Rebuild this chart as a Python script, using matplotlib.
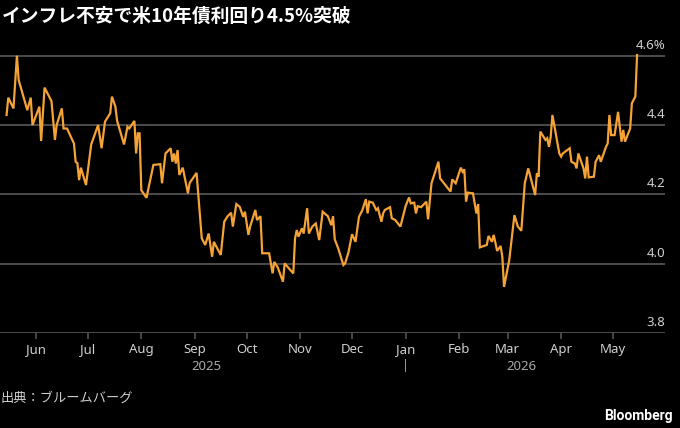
import matplotlib
matplotlib.use("Agg")
import matplotlib.pyplot as plt
import matplotlib.transforms as mtransforms
import pandas as pd

# ---- data ----
start_date = "2025-06-01"
day_offsets = [-17, -16, -13, -11, -10, -5, -3, -2, 2, 3, 5, 9, 11, 12, 15, 16, 18, 22, 23, 24,
               25, 26, 29, 32, 36, 38, 40, 43, 44, 46, 47, 51, 53, 54, 57, 58, 59, 60, 61, 64,
               68, 72, 73, 75, 78, 79, 80, 81, 82, 83, 85, 88, 89, 93, 96, 98, 100, 102, 103, 107,
               109, 111, 113, 114, 116, 118, 120, 121, 123, 124, 127, 128, 130, 131, 135, 137, 138, 140, 143, 144,
               146, 149, 150, 151, 152, 154, 155, 157, 158, 160, 162, 164, 166, 169, 171, 172, 173, 175, 178, 179,
               181, 183, 185, 187, 189, 191, 192, 193, 195, 197, 198, 199, 200, 201, 202, 205, 206, 208, 211, 214,
               216, 217, 219, 220, 221, 223, 226, 227, 229, 233, 234, 237, 240, 241, 243, 246, 247, 248, 249, 250,
               253, 255, 256, 257, 261, 262, 264, 265, 267, 269, 270, 271, 274, 277, 279, 281, 283, 285, 289, 290,
               291, 292, 295, 296, 297, 298, 299, 303, 304, 305, 309, 310, 312, 313, 314, 315, 317, 318, 319, 320,
               323, 324, 326, 327, 330, 331, 332, 333, 335, 337, 339, 340, 341, 344, 345, 347, 348]
yields = [4.429, 4.479, 4.448, 4.600, 4.530, 4.443, 4.479, 4.400, 4.453, 4.354, 4.508, 4.469, 4.357, 4.400, 4.448, 4.390, 4.390, 4.347, 4.294, 4.290,
          4.241, 4.277, 4.227, 4.344, 4.400, 4.333, 4.410, 4.434, 4.482, 4.453, 4.412, 4.344, 4.395, 4.390, 4.412, 4.318, 4.376, 4.376, 4.212, 4.190,
          4.285, 4.287, 4.232, 4.318, 4.333, 4.294, 4.318, 4.289, 4.328, 4.256, 4.277, 4.203, 4.233, 4.262, 4.073, 4.054, 4.087, 4.020, 4.063, 4.025,
          4.121, 4.137, 4.147, 4.107, 4.172, 4.164, 4.135, 4.150, 4.083, 4.107, 4.155, 4.126, 4.137, 4.030, 4.030, 3.972, 4.005, 3.989, 3.948, 4.001,
          3.989, 3.972, 4.073, 4.097, 4.078, 4.102, 4.087, 4.160, 4.087, 4.107, 4.116, 4.068, 4.150, 4.137, 4.111, 4.137, 4.070, 4.044, 3.996, 4.001,
          4.034, 4.085, 4.063, 4.135, 4.155, 4.186, 4.145, 4.179, 4.176, 4.155, 4.160, 4.140, 4.121, 4.145, 4.155, 4.163, 4.131, 4.126, 4.107, 4.166,
          4.191, 4.174, 4.176, 4.145, 4.166, 4.163, 4.179, 4.128, 4.232, 4.294, 4.246, 4.227, 4.208, 4.243, 4.232, 4.277, 4.265, 4.272, 4.179, 4.205,
          4.203, 4.145, 4.172, 4.047, 4.054, 4.080, 4.063, 4.083, 4.037, 4.051, 4.020, 3.933, 4.010, 4.140, 4.107, 4.095, 4.232, 4.275, 4.198, 4.261,
          4.251, 4.381, 4.357, 4.362, 4.337, 4.366, 4.429, 4.318, 4.309, 4.318, 4.333, 4.294, 4.289, 4.275, 4.318, 4.304, 4.275, 4.246, 4.309, 4.249,
          4.251, 4.294, 4.313, 4.294, 4.337, 4.347, 4.429, 4.371, 4.371, 4.438, 4.352, 4.386, 4.352, 4.390, 4.463, 4.482, 4.602]

y_ticks = [3.8, 4.0, 4.2, 4.4, 4.6]
y_tick_labels = ["3.8", "4.0", "4.2", "4.4", "4.6%"]
month_ticks = ["2025-06-01", "2025-07-01", "2025-08-01", "2025-09-01", "2025-10-01", "2025-11-01",
               "2025-12-01", "2026-01-01", "2026-02-01", "2026-03-01", "2026-04-01", "2026-05-01"]
month_labels = ["Jun", "Jul", "Aug", "Sep", "Oct", "Nov", "Dec", "Jan", "Feb", "Mar", "Apr", "May"]
year_labels = ["2025", "2026"]
title = "インフレ不安で米10年債利回り4.5%突破"
source = "出典：ブルームバーグ"

# ---- style ----
plt.rcParams['font.family'] = ['Noto Sans CJK JP', 'DejaVu Sans']
BG = "#000000"
LINE = "#F5A236"
GRID = "#525252"
TXT = "#cfcfcf"

dates = pd.Timestamp(start_date) + pd.to_timedelta(day_offsets, unit="D")
base = pd.Timestamp(start_date)

fig = plt.figure(figsize=(6.8, 4.28), dpi=100, facecolor=BG)
ax = fig.add_axes([0.0, 0.222, 0.978, 0.664])
ax.set_facecolor(BG)

ax.plot(dates, yields, color=LINE, lw=1.6, solid_joinstyle="miter", zorder=3)

ax.set_ylim(3.8, 4.62)
ax.set_xlim(base - pd.Timedelta(days=20.8), base + pd.Timedelta(days=364.2))

for s in ax.spines.values():
    s.set_visible(False)

for v in y_ticks:
    ax.axhline(v, color=GRID, lw=1.3, zorder=1)
ax.set_yticks([])

tr = mtransforms.blended_transform_factory(ax.transAxes, ax.transData)
off = mtransforms.ScaledTranslation(0, 3 / 72, fig.dpi_scale_trans)
for v, lab in zip(y_ticks, y_tick_labels):
    ax.text(1.0, v, lab, transform=tr + off, ha="right", va="bottom",
            color=TXT, fontsize=9.5, family=['Noto Sans', 'DejaVu Sans'])

ax.set_xticks(pd.to_datetime(month_ticks))
ax.set_xticklabels(month_labels)
ax.tick_params(axis="x", colors=GRID, length=4.5, width=1.2, pad=3, labelcolor=TXT, labelsize=9.5)
for t in ax.get_xticklabels():
    t.set_family(['Noto Sans', 'DejaVu Sans'])

# year labels centred on each year's span of data
d0, d1 = dates.min(), dates.max()
jan = pd.Timestamp("2026-01-01")
xt = mtransforms.blended_transform_factory(ax.transData, fig.transFigure)
mid25 = d0 + (jan - d0) / 2
mid26 = jan + (d1 - jan) / 2
ax.text(mid25, 1 - 366 / 428, year_labels[0], transform=xt, ha="center", va="center",
        color="#a8a8a8", fontsize=9.5, family=['Noto Sans', 'DejaVu Sans'])
ax.text(mid26, 1 - 366 / 428, year_labels[1], transform=xt, ha="center", va="center",
        color="#a8a8a8", fontsize=9.5, family=['Noto Sans', 'DejaVu Sans'])
ax.text(jan, 1 - 366 / 428, "|", transform=xt, ha="center", va="center",
        color="#a8a8a8", fontsize=9, family=['Noto Sans', 'DejaVu Sans'])

fig.text(0.003, 1 - 16 / 428, title, ha="left", va="center", color="white",
         fontsize=13.5, fontweight="bold")
fig.text(0.0, 1 - 398 / 428, source, ha="left", va="center", color=TXT, fontsize=9.5)
fig.text(0.99, 1 - 416 / 428, "Bloomberg", ha="right", va="center", color="white",
         fontsize=10, fontweight="bold", family=['Roboto', 'DejaVu Sans'])

fig.savefig("out.png", dpi=100, facecolor=BG)
